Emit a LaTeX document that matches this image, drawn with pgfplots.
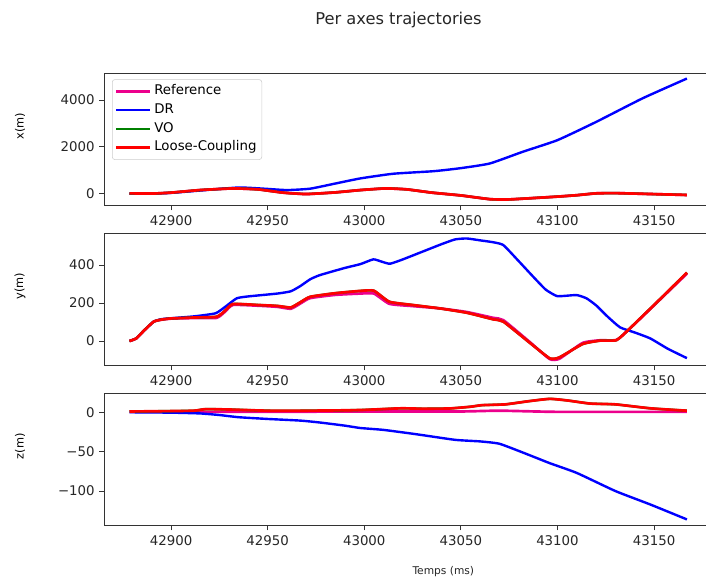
\documentclass[border=0pt]{standalone}
\usepackage{fontspec}
\setmainfont{DejaVu Sans}
\usepackage{pgfplots}
\pgfplotsset{compat=1.18}
\definecolor{mplgreen}{rgb}{0,0.5,0}
\pgfplotsset{
  panel/.style={
    scale only axis, width=458.2pt, height=99.3pt,
    xmin=42865.3, xmax=43181.5,
    scaled x ticks=false, scaled y ticks=false,
    xtick={42900,42950,43000,43050,43100,43150},
    xticklabels={42900,42950,43000,43050,43100,43150},
    tick align=outside, major tick length=3.5pt,
    xtick pos=left, ytick pos=left,
    ticklabel style={font=\fontsize{10}{12}\selectfont, color=black!85},
    axis line style={black!80, line width=0.7pt},
    every tick/.style={black!80, line width=0.6pt},
    ylabel style={at={(axis description cs:-0.1375,0.6)}, anchor=center, font=\fontsize{8.5}{10}\selectfont},
    anchor=north west,
  },
  refl/.style={color=magenta, line width=2.0pt, smooth, tension=0.3},
  drl/.style={color=blue, line width=1.8pt, smooth, tension=0.3},
  vol/.style={color=mplgreen, line width=1.8pt, smooth, tension=0.3},
  lcl/.style={color=red, line width=2.0pt, smooth, tension=0.3},
}
\begin{document}
\begin{tikzpicture}
% ---------------- x(m)
\begin{axis}[panel, at={(78pt,-55pt)}, ymin=-531, ymax=5143,
  ytick={0,2000,4000}, yticklabels={0,2000,4000}, ylabel={x(m)},
  legend style={at={(axis description cs:0.0131,0.955)}, anchor=north west,
    draw=black!20, rounded corners=2pt, fill=white, fill opacity=0.8, text opacity=1,
    font=\fontsize{10}{12}\selectfont, inner sep=2pt,
    nodes={inner sep=2pt, text height=7.5pt, text depth=2.5pt}},
  legend cell align=left,
  legend image code/.code={\path (0pt,0pt) -- (25.5pt,0pt); \draw[#1, line width=1.5pt] (0pt,0pt) -- (21.75pt,0pt);},
]
\addplot[refl] coordinates {(42878.5,0) (42890,-10) (42900,30) (42915,140) (42932,210) (42945,170) (42958,30) (42970,-30) (42985,40) (42998,140) (43011,210) (43022,170) (43035,30) (43050,-90) (43065,-250) (43075,-260) (43088,-200) (43100,-140) (43110,-80) (43120,0) (43130,10) (43144,-20) (43167,-70)};
\addlegendentry{Reference}
\addplot[drl] coordinates {(42878.5,0) (42890,-10) (42900,20) (42915,120) (42935,250) (42948,200) (42960,140) (42972,200) (42985,420) (42998,640) (43015,840) (43036,950) (43050,1080) (43065,1280) (43082,1780) (43100,2280) (43120,3060) (43144,4070) (43167,4920)};
\addlegendentry{DR}
\addplot[vol] coordinates {(42878.5,0) (42890,-10) (42900,30) (42915,140) (42932,210) (42945,170) (42958,30) (42970,-30) (42985,40) (42998,140) (43011,210) (43022,170) (43035,30) (43050,-90) (43065,-250) (43075,-260) (43088,-200) (43100,-140) (43110,-80) (43120,0) (43130,10) (43144,-20) (43167,-70)};
\addlegendentry{VO}
\addplot[lcl] coordinates {(42878.5,0) (42890,-10) (42900,30) (42915,140) (42932,210) (42945,170) (42958,30) (42970,-30) (42985,40) (42998,140) (43011,210) (43022,170) (43035,30) (43050,-90) (43065,-250) (43075,-260) (43088,-200) (43100,-140) (43110,-80) (43120,0) (43130,10) (43144,-20) (43167,-70)};
\addlegendentry{Loose-Coupling}
\end{axis}
% ---------------- y(m)
\begin{axis}[panel, at={(78pt,-175pt)}, ymin=-130, ymax=567,
  ytick={0,200,400}, yticklabels={0,200,400}, ylabel={y(m)}]
\addplot[refl] coordinates {(42878.5,0) (42882,14) (42886,55) (42891,102) (42895,112) (42900,118) (42912,121) (42923.6,122) (42928,155) (42932,190) (42945,186) (42955,180) (42962,170) (42967,198) (42972,226) (42985,243) (42998,250) (43005,250) (43013,196) (43025,184) (43039,172) (43053,153) (43066.8,122) (43072,110) (43086,-8) (43096,-95) (43101,-93) (43113,-10) (43122,4) (43130.6,6) (43137.5,66) (43150,188) (43167,355)};
\addplot[drl] coordinates {(42878.5,0) (42882,14) (42886,55) (42891,102) (42895,115) (42900,120) (42912,130) (42923,146) (42928,180) (42934,225) (42940,235) (42955,250) (42962,262) (42967,290) (42972,325) (42977,347) (42990,385) (42998,405) (43004.7,430) (43009,418) (43013.3,407) (43020,430) (43030,470) (43040,510) (43047,535) (43053,540) (43060,530) (43066.8,520) (43072,505) (43080,420) (43087.5,338) (43094,270) (43099.6,237) (43104,238) (43110,242) (43115,225) (43120,188) (43126,128) (43132.4,72) (43140,45) (43148,14) (43157,-40) (43167,-90)};
\addplot[vol] coordinates {(42878.5,0) (42882,14) (42886,55) (42891,102) (42895,113) (42900,119) (42912,124) (42923.6,128) (42928,160) (42932,195) (42945,190) (42955,185) (42962,177) (42967,205) (42972,233) (42985,252) (42998,264) (43005,265) (43013,207) (43025,190) (43039,172) (43053,149) (43066.8,114) (43072,102) (43086,-12) (43096,-91) (43101,-86) (43113,-16) (43122,2) (43130.6,5) (43137.5,67) (43150,190) (43167,360)};
\addplot[lcl] coordinates {(42878.5,0) (42882,14) (42886,55) (42891,102) (42895,113) (42900,119) (42912,124) (42923.6,128) (42928,160) (42932,195) (42945,190) (42955,185) (42962,177) (42967,205) (42972,233) (42985,252) (42998,264) (43005,265) (43013,207) (43025,190) (43039,172) (43053,149) (43066.8,114) (43072,102) (43086,-12) (43096,-91) (43101,-86) (43113,-16) (43122,2) (43130.6,5) (43137.5,67) (43150,190) (43167,360)};
\end{axis}
% ---------------- z(m)
\begin{axis}[panel, at={(78pt,-295pt)}, ymin=-144, ymax=24,
  ytick={-100,-50,0}, yticklabels={−100,−50,0}, ylabel={z(m)}]
\addplot[refl] coordinates {(42878.5,0.5) (42950,0.5) (43000,1) (43050,1) (43070,2) (43100,0.5) (43167,0.5)};
\addplot[drl] coordinates {(42878.5,0) (42900,-0.5) (42915,-1.5) (42925,-3.5) (42935,-6.3) (42950,-8.5) (42967,-10.6) (42977,-13) (42990,-17) (42998,-20) (43010,-22.4) (43027,-27.9) (43047,-35) (43060,-37) (43070,-40) (43083,-52) (43096,-64.6) (43110,-77) (43130,-100) (43148,-117) (43167,-136)};
\addplot[vol] coordinates {(42878.5,1) (42900,1.5) (42912,2) (42918,4) (42930,3.5) (42950,2) (42970,2) (42990,2.5) (43000,3) (43019,5) (43030,4.5) (43044,4.8) (43055,7) (43061,9) (43073,10) (43085,14) (43096,17) (43105,15) (43117,11) (43130,10) (43148,5) (43167,2)};
\addplot[lcl] coordinates {(42878.5,1) (42900,1.5) (42912,2) (42918,4) (42930,3.5) (42950,2) (42970,2) (42990,2.5) (43000,3) (43019,5) (43030,4.5) (43044,4.8) (43055,7) (43061,9) (43073,10) (43085,14) (43096,17) (43105,15) (43117,11) (43130,10) (43148,5) (43167,2)};
\end{axis}
\node[font=\fontsize{12.2}{14}\selectfont, color=black!85] at (298.9pt,-15pt) {Per axes trajectories};
\node[font=\fontsize{8}{10}\selectfont, color=black!85] at (332.5pt,-429pt) {Temps (ms)};
\pgfresetboundingbox
\path[use as bounding box] (0pt,0pt) rectangle (529.5pt,-433.5pt);
\end{tikzpicture}
\end{document}
